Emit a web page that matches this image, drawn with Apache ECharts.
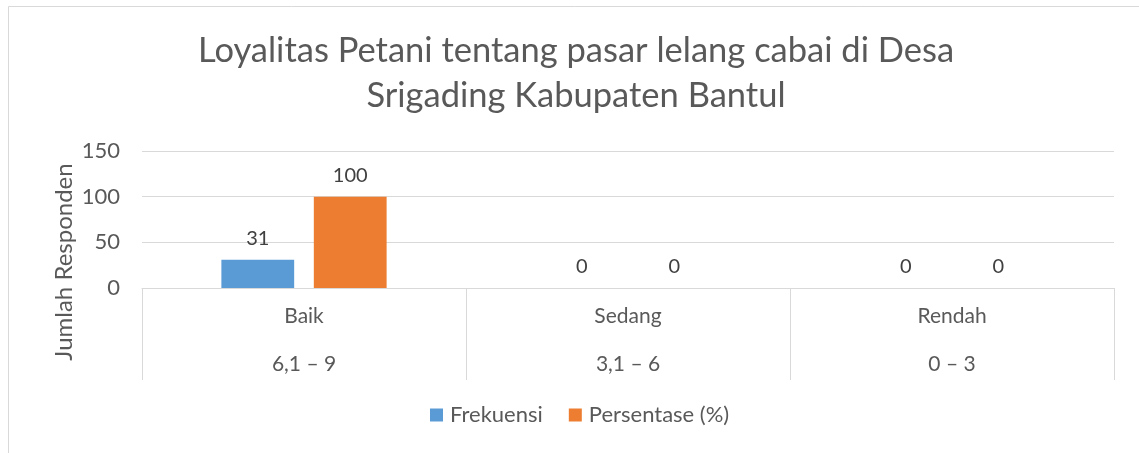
<!DOCTYPE html>
<html>
<head>
<meta charset="utf-8">
<script src="https://cdn.jsdelivr.net/npm/echarts@6/dist/echarts.min.js"></script>
<style>
  html, body { margin: 0; padding: 0; background: #fff; }
  #chart { width: 1139px; height: 453px; }
</style>
</head>
<body>
<div id="chart"></div>
<script>
// data
var categories = ['Baik', 'Sedang', 'Rendah']
var ranges = ['6,1 \u2013 9', '3,1 \u2013 6', '0 \u2013 3']
var frekuensi = [31, 0, 0]
var persentase = [100, 0, 0]
var yTicks = [0, 50, 100, 150]

var font = 'Lato'
var textColor = '#595959'
var lineColor = '#d9d9d9'

var chart = echarts.init(document.getElementById('chart'))
chart.setOption({
  animation: false,
  textStyle: { fontFamily: font },
  title: {
    text: 'Loyalitas Petani tentang pasar lelang cabai di Desa\nSrigading Kabupaten Bantul',
    left: 571,
    textAlign: 'center',
    top: 23,
    textStyle: {
      fontFamily: font,
      fontSize: 34.5,
      fontWeight: 'normal',
      color: textColor,
      lineHeight: 45
    }
  },
  graphic: [
    {
      type: 'rect',
      shape: { x: 8.5, y: 6.5, width: 1140, height: 470 },
      style: { fill: 'none', stroke: lineColor, lineWidth: 1 },
      silent: true
    },
    {
      type: 'text',
      x: 64,
      y: 262,
      rotation: Math.PI / 2,
      style: {
        text: 'Jumlah Responden',
        font: '24px ' + font,
        fill: textColor,
        align: 'center',
        verticalAlign: 'middle'
      }
    }
  ],
  legend: {
    bottom: 22,
    left: 425,
    itemWidth: 13,
    itemHeight: 13,
    itemGap: 26,
    icon: 'rect',
    textStyle: { fontFamily: font, fontSize: 22, color: textColor, padding: [0, 0, 0, 2] },
    data: ['Frekuensi', 'Persentase (%)']
  },
  grid: { left: 142, right: 25, top: 151, bottom: 165 },
  xAxis: {
    type: 'category',
    data: categories,
    axisLine: { lineStyle: { color: lineColor, width: 1 } },
    axisTick: { show: true, length: 92, lineStyle: { color: lineColor } },
    axisLabel: {
      margin: 4,
      interval: 0,
      formatter: function (v, i) {
        return '{a|' + v + '}\n{b|' + ranges[i] + '}'
      },
      rich: {
        a: { fontFamily: font, fontSize: 21, color: textColor, lineHeight: 48 },
        b: { fontFamily: font, fontSize: 21, color: textColor, lineHeight: 48 }
      }
    }
  },
  yAxis: {
    type: 'value',
    min: yTicks[0],
    max: yTicks[yTicks.length - 1],
    interval: 50,
    axisLine: { show: false },
    axisTick: { show: false },
    axisLabel: { margin: 22, fontFamily: font, fontSize: 22, color: textColor },
    splitLine: { lineStyle: { color: lineColor, width: 1 } }
  },
  series: [
    {
      name: 'Frekuensi',
      type: 'bar',
      data: frekuensi,
      barGap: '27%',
      barCategoryGap: '49%',
      itemStyle: { color: '#5B9BD5' },
      label: { show: true, position: 'top', distance: 11, fontFamily: font, fontSize: 20, color: '#404040' }
    },
    {
      name: 'Persentase (%)',
      type: 'bar',
      data: persentase,
      itemStyle: { color: '#ED7D31' },
      label: { show: true, position: 'top', distance: 11, fontFamily: font, fontSize: 20, color: '#404040' }
    }
  ]
})
</script>
</body>
</html>
